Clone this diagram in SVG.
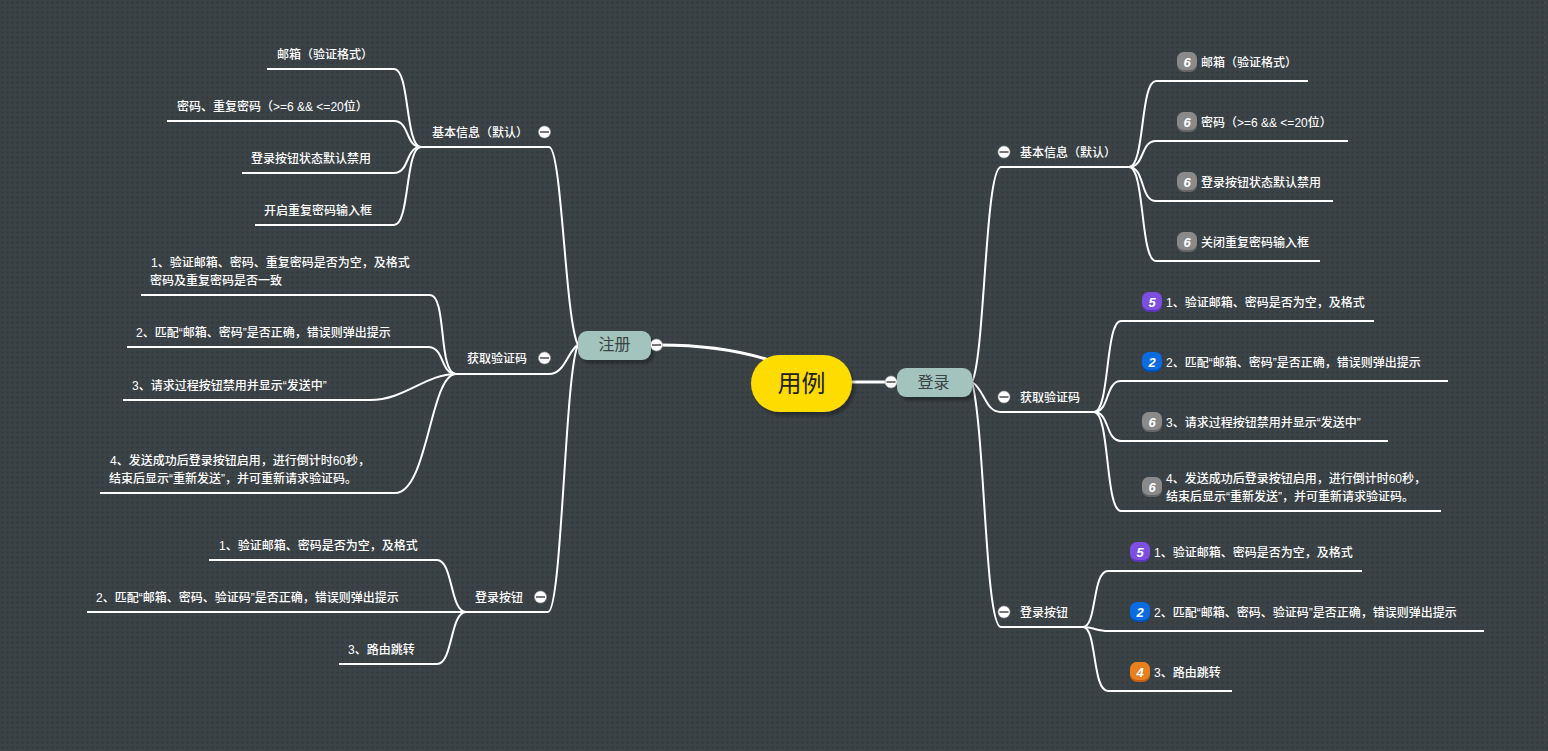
<svg xmlns="http://www.w3.org/2000/svg" width="1548" height="751" viewBox="0 0 1548 751">
<style>
text{font-family:"Liberation Sans","Noto Sans CJK SC",sans-serif;fill:#fff;font-size:12px;font-weight:500;transform:translateY(.7px)}
.c{fill:none;stroke:#fff;stroke-width:2}
.t{fill:none;stroke:#fff;stroke-width:3}
.n{fill:#a3c4bc}
.nt{fill:#3b4245;font-size:16px;text-anchor:middle;font-weight:400}
.m{fill:#fff;stroke:#aaa;stroke-width:.6}
.d{stroke:#555;stroke-width:1.6}
.bt{font-size:13px;font-weight:700;font-style:italic;text-anchor:middle}
</style>
<defs>
<pattern id="bg" width="5" height="5" patternUnits="userSpaceOnUse"><rect width="5" height="5" fill="#3b4347"/><rect x="1.500" y="1.500" width="2" height="2" fill="#32383c"/></pattern>
<filter id="s" x="-20%" y="-20%" width="140%" height="150%"><feDropShadow dx="3" dy="4" stdDeviation="1.500" flood-color="#000" flood-opacity=".3"/></filter>
<g id="minus"><circle r="6" class="m"/><path d="M-4.500 0H4.500" class="d"/></g>
<g id="b6"><rect x="-10" y="-10" width="20" height="20" rx="7" fill="#666"/><rect x="-10" y="-10" width="20" height="18" rx="7" fill="#8a8a8a"/><text y="4" class="bt">6</text></g>
<g id="b5"><rect x="-10" y="-10" width="20" height="20" rx="7" fill="#5a35b5"/><rect x="-10" y="-10" width="20" height="18" rx="7" fill="#7c4fe0"/><text y="4" class="bt">5</text></g>
<g id="b2"><rect x="-10" y="-10" width="20" height="20" rx="7" fill="#0050b0"/><rect x="-10" y="-10" width="20" height="18" rx="7" fill="#0a6ce0"/><text y="4" class="bt">2</text></g>
<g id="b4"><rect x="-10" y="-10" width="20" height="20" rx="7" fill="#c06010"/><rect x="-10" y="-10" width="20" height="18" rx="7" fill="#e8801f"/><text y="4" class="bt">4</text></g>
</defs>
<rect width="1548" height="751" fill="url(#bg)"/>
<g id="connectors">
<path class="t" d="M660 345C700 345 740 350 775 362"/>
<path class="t" d="M850 382H897"/>
<path class="c" d="M972 382C985 357 985 167 1001 167H1129"/>
<path class="c" d="M972 382C985 390 985 412 1001 412H1094"/>
<path class="c" d="M972 382C985 430 985 627 1001 627H1083"/>
<path class="c" d="M1129 167C1145 167 1140 81 1156 81H1308"/>
<path class="c" d="M1129 167C1145 167 1140 141 1156 141H1348"/>
<path class="c" d="M1129 167C1145 167 1140 201 1156 201H1333"/>
<path class="c" d="M1129 167C1145 167 1140 261 1156 261H1320"/>
<path class="c" d="M1094 412C1110 412 1105 321 1121 321H1374"/>
<path class="c" d="M1094 412C1110 412 1105 381 1121 381H1448"/>
<path class="c" d="M1094 412C1110 412 1105 441 1121 441H1388"/>
<path class="c" d="M1094 412C1110 412 1105 511 1121 511H1441"/>
<path class="c" d="M1083 627C1097 627 1092 571 1108 571H1362"/>
<path class="c" d="M1083 627C1092 627 1098 631 1108 631H1484"/>
<path class="c" d="M1083 627C1097 627 1092 691 1108 691H1232"/>
<path class="c" d="M578 345C565 320 562 147 549 147H421"/>
<path class="c" d="M578 345C568 350 565 374 549 374H456"/>
<path class="c" d="M578 345C565 370 562 612 548 612H466"/>
<path class="c" d="M421 147C405 147 410 69 394 69H267"/>
<path class="c" d="M421 147C405 147 410 121 394 121H167"/>
<path class="c" d="M421 147C405 147 410 173 394 173H242"/>
<path class="c" d="M421 147C405 147 410 225 394 225H255"/>
<path class="c" d="M456 374C438 374 447 295 430 295H141"/>
<path class="c" d="M456 374C440 374 445 347 428 347H127"/>
<path class="c" d="M456 374C425 374 405 400 370 400H123"/>
<path class="c" d="M456 374C430 374 428 493 395 493H100"/>
<path class="c" d="M466 612C450 612 453 560 437 560H209"/>
<path class="c" d="M466 612H87"/>
<path class="c" d="M466 612C450 612 453 664 437 664H339"/>
</g>
<g id="root"><rect x="751" y="355" width="101" height="57" rx="28.500" fill="#ffdc00" filter="url(#s)"/><text x="801.500" y="391" style="font-size:24px;fill:#222;text-anchor:middle;font-weight:400">用例</text></g>
<g id="login"><rect x="897" y="368" width="75" height="29" rx="9" class="n" filter="url(#s)"/><text x="933.500" y="387" class="nt">登录</text><use href="#minus" x="891" y="382"/></g>
<g id="register"><rect x="578" y="331" width="73" height="29" rx="9" class="n" filter="url(#s)"/><text x="614.500" y="349" class="nt">注册</text><use href="#minus" x="656.500" y="345"/></g>
<g id="r1"><use href="#minus" x="1004" y="152"/><text x="1020" y="156">基本信息（默认）</text></g>
<g id="r2"><use href="#minus" x="1004" y="397"/><text x="1020" y="401">获取验证码</text></g>
<g id="r3"><use href="#minus" x="1004" y="612"/><text x="1020" y="616">登录按钮</text></g>
<g id="r11"><use href="#b6" x="1187" y="62"/><text x="1201" y="66">邮箱（验证格式）</text></g>
<g id="r12"><use href="#b6" x="1187" y="122"/><text x="1201" y="126">密码（&gt;=6 &amp;&amp; &lt;=20位）</text></g>
<g id="r13"><use href="#b6" x="1187" y="182"/><text x="1201" y="186">登录按钮状态默认禁用</text></g>
<g id="r14"><use href="#b6" x="1187" y="242"/><text x="1201" y="246">关闭重复密码输入框</text></g>
<g id="r21"><use href="#b5" x="1152" y="302"/><text x="1166" y="306">1、验证邮箱、密码是否为空，及格式</text></g>
<g id="r22"><use href="#b2" x="1152" y="362"/><text x="1166" y="366">2、匹配“邮箱、密码”是否正确，错误则弹出提示</text></g>
<g id="r23"><use href="#b6" x="1152" y="422"/><text x="1166" y="426">3、请求过程按钮禁用并显示“发送中”</text></g>
<g id="r24"><use href="#b6" x="1152" y="487"/><text x="1166" y="482">4、发送成功后登录按钮启用，进行倒计时60秒，</text><text x="1166" y="500">结束后显示“重新发送”，并可重新请求验证码。</text></g>
<g id="r31"><use href="#b5" x="1140" y="552"/><text x="1154" y="556">1、验证邮箱、密码是否为空，及格式</text></g>
<g id="r32"><use href="#b2" x="1140" y="612"/><text x="1154" y="616">2、匹配“邮箱、密码、验证码”是否正确，错误则弹出提示</text></g>
<g id="r33"><use href="#b4" x="1140" y="672"/><text x="1154" y="676">3、路由跳转</text></g>
<g id="l1"><text x="432" y="136">基本信息（默认）</text><use href="#minus" x="544.500" y="132"/></g>
<g id="l2"><text x="467" y="362">获取验证码</text><use href="#minus" x="544.500" y="358"/></g>
<g id="l3"><text x="475" y="601">登录按钮</text><use href="#minus" x="540.500" y="597"/></g>
<g id="l11"><text x="277" y="58">邮箱（验证格式）</text></g>
<g id="l12"><text x="177" y="110">密码、重复密码（&gt;=6 &amp;&amp; &lt;=20位）</text></g>
<g id="l13"><text x="251" y="162">登录按钮状态默认禁用</text></g>
<g id="l14"><text x="264" y="214">开启重复密码输入框</text></g>
<g id="l21"><text x="151" y="266">1、验证邮箱、密码、重复密码是否为空，及格式</text><text x="150" y="284">密码及重复密码是否一致</text></g>
<g id="l22"><text x="136" y="336">2、匹配“邮箱、密码”是否正确，错误则弹出提示</text></g>
<g id="l23"><text x="132" y="389">3、请求过程按钮禁用并显示“发送中”</text></g>
<g id="l24"><text x="110" y="464">4、发送成功后登录按钮启用，进行倒计时60秒，</text><text x="109" y="482">结束后显示“重新发送”，并可重新请求验证码。</text></g>
<g id="l31"><text x="219" y="549">1、验证邮箱、密码是否为空，及格式</text></g>
<g id="l32"><text x="96" y="601">2、匹配“邮箱、密码、验证码”是否正确，错误则弹出提示</text></g>
<g id="l33"><text x="348" y="653">3、路由跳转</text></g>
</svg>
